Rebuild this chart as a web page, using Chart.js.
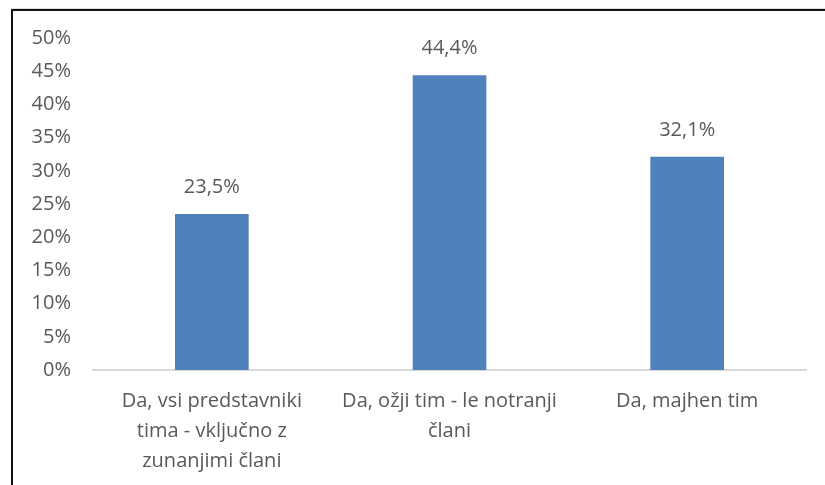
<!DOCTYPE html>
<html>
<head>
<meta charset="utf-8">
<script src="https://cdn.jsdelivr.net/npm/chart.js@4.4.0/dist/chart.umd.min.js"></script>
<style>
    html, body { margin: 0; padding: 0; background: #fff; }
    #wrap { position: relative; width: 825px; height: 485px; }
    #frame {
        position: absolute; left: 11px; top: 9px; right: 0; bottom: 0;
        border-top: 2px solid #111; border-left: 2px solid #111;
        box-shadow: 0 -1px 0 #ddd;
    }
    canvas { position: absolute; left: 0; top: 0; }
</style>
</head>
<body>
<div id="wrap">
    <div id="frame"></div>
    <canvas id="chart" width="825" height="485"></canvas>
</div>
<script>
    // Datos
    const categories = [
        ['Da, vsi predstavniki', 'tima - vključno z', 'zunanjimi člani'],
        ['Da, ožji tim - le notranji', 'člani'],
        ['Da, majhen tim']
    ];
    const values = [23.5, 44.4, 32.1];
    const valueLabels = ['23,5%', '44,4%', '32,1%'];

    const textColor = '#595959';
    const fontFamily = "'Open Sans', 'Noto Sans', sans-serif";

    // Etiquetas encima de las barras
    const barLabels = {
        id: 'barLabels',
        afterDatasetsDraw(chart) {
            const ctx = chart.ctx;
            const meta = chart.getDatasetMeta(0);
            ctx.save();
            ctx.fillStyle = textColor;
            ctx.font = '20px ' + fontFamily;
            ctx.textAlign = 'center';
            ctx.textBaseline = 'middle';
            meta.data.forEach((bar, i) => {
                ctx.fillText(valueLabels[i], bar.x, bar.y - 27);
            });
            ctx.restore();
        }
    };

    new Chart(document.getElementById('chart').getContext('2d'), {
        type: 'bar',
        data: {
            labels: categories,
            datasets: [{
                data: values,
                backgroundColor: '#4f81bd',
                borderWidth: 0,
                barPercentage: 0.31,
                categoryPercentage: 1
            }]
        },
        options: {
            responsive: false,
            animation: false,
            layout: { padding: { top: 38, right: 19, left: 0, bottom: 0 } },
            plugins: {
                legend: { display: false },
                tooltip: { enabled: false }
            },
            scales: {
                x: {
                    grid: { display: false },
                    border: { display: true, color: '#d9d9d9', width: 2 },
                    ticks: {
                        color: textColor,
                        font: { family: fontFamily, size: 20, lineHeight: 1.5 },
                        maxRotation: 0,
                        padding: 8
                    },
                    afterFit(axis) { axis.height = 115; }
                },
                y: {
                    min: 0,
                    max: 50,
                    grid: { display: false },
                    border: { display: false },
                    ticks: {
                        stepSize: 5,
                        color: textColor,
                        font: { family: fontFamily, size: 20 },
                        padding: 14,
                        callback: v => v + '%'
                    },
                    afterFit(axis) { axis.width = 93; }
                }
            }
        },
        plugins: [barLabels]
    });
</script>
</body>
</html>
